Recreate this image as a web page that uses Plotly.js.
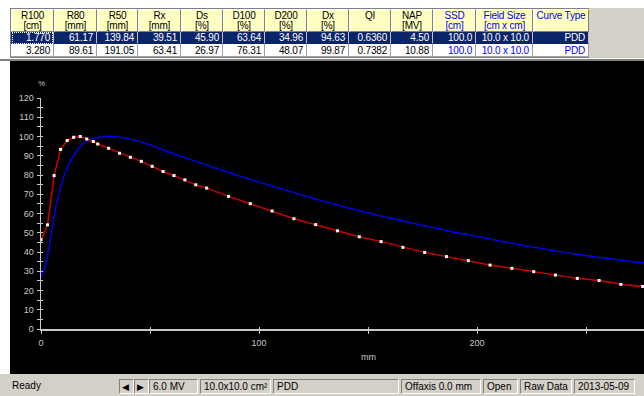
<!DOCTYPE html>
<html><head><meta charset="utf-8">
<script src="https://cdn.plot.ly/plotly-3.0.1.min.js"></script>
<style>
body{margin:0;width:644px;height:396px;overflow:hidden;background:#fff;font-family:"Liberation Sans",Arial,sans-serif;position:relative}
.c{position:absolute;box-sizing:border-box;font-size:10px;white-space:nowrap;overflow:hidden;letter-spacing:-0.2px}
.h{background:#FFFFC4;border-right:1px solid #808080;border-bottom:1px solid #808080;border-top:1px solid #fff;border-left:1px solid #fff;text-align:center;line-height:9.5px;padding-top:1px}
.r{text-align:right;padding-right:3px;border-right:1px solid #a0a0a0;border-bottom:1px solid #a0a0a0}
.sb{position:absolute;top:379px;height:15px;box-sizing:border-box;border-top:1px solid #808080;border-left:1px solid #808080;border-right:1px solid #fff;border-bottom:1px solid #fff;font-size:10px;line-height:13px;padding-left:3px;white-space:nowrap;overflow:hidden}
</style></head><body>
<div id="tbl"></div>
<div style="position:absolute;left:589px;top:8px;width:55px;height:50px;background:#D4D0C8"></div>
<div style="position:absolute;left:0;top:59px;width:644px;height:2px;background:#808080"></div>
<div id="plot" style="position:absolute;left:10px;top:61px;width:634px;height:313px;background:#000"></div>
<div id="status" style="position:absolute;left:0;top:374px;width:644px;height:22px;background:#D4D0C8"></div>
<script>
// ---- table data ----
const colEdges = [11,54,97,138,181,223,265,307,349,391,433,476,533,589];
const headerTop = ["R100","R80","R50","Rx","Ds","D100","D200","Dx","QI","NAP","SSD","Field Size","Curve Type"];
const headerUnit = ["[cm]","[mm]","[mm]","[mm]","[%]","[%]","[%]","[%]","","[MV]","[cm]","[cm x cm]",""];
const row6MV  = ["1.770","61.17","139.84","39.51","45.90","63.64","34.96","94.63","0.6360","4.50","100.0","10.0 x 10.0","PDD"];
const row10MV = ["3.280","89.61","191.05","63.41","26.97","76.31","48.07","99.87","0.7382","10.88","100.0","10.0 x 10.0","PDD"];
const blueCols = [10,11,12];

// ---- curve data (depth mm, relative dose %) ----
const depth6MV = [0,3,6,9,12,15,18,21,24,26,31,36,41,46,51,56,61,66,71,76,86,96,106,116,126,136,146,156,166,176,186,196,206,216,226,236,246,256,266,276];
const dose6MV  = [46.3,54.1,79.7,93.3,97.9,99.6,100.0,98.7,97.4,96.1,93.9,91.3,89.2,87.1,84.5,81.8,79.7,77.5,74.9,73.2,68.9,65.1,61.3,57.3,54.2,51.0,47.9,45.4,42.4,39.8,37.6,35.5,33.2,31.5,29.8,28.0,26.3,25.2,23.2,22.1];
const depth10MV = [0,2,4.5,6.6,8.9,11.9,15.7,19.5,24,28,32.8,40,50,60,73,89.6,100,114,128,142,156,169,183,191,200,211,224,238,252,266,277];
const dose10MV  = [27.0,32.7,47.8,62.0,73.2,83.5,91.3,96.4,99.0,99.9,100.0,98.9,95.6,91.4,86.3,80.0,76.3,71.5,66.9,62.6,58.7,55.3,51.9,50.0,48.1,45.6,42.9,40.2,37.8,35.7,34.2];

// ---- status bar ----
const statusTexts = ["6.0 MV","10.0x10.0 cm²","PDD","Offaxis 0.0 mm","Open","Raw Data","2013-05-09"];
const statusEdges = [149,200,273,401,483,520,574,637];

// build table
const tbl = document.getElementById('tbl');
function cell(cls, l, t, w, h, html, style){
  const d = document.createElement('div');
  d.className = 'c ' + cls;
  d.style.left = l+'px'; d.style.top = t+'px'; d.style.width = w+'px'; d.style.height = h+'px';
  if(style) Object.assign(d.style, style);
  d.innerHTML = html;
  tbl.appendChild(d);
  return d;
}
cell('', 10, 8, 580, 1, '', {background:'#808080'});
cell('', 10, 8, 1, 50, '', {background:'#808080'});
for(let i=0;i<headerTop.length;i++){
  const l = colEdges[i], w = colEdges[i+1]-colEdges[i];
  const col = blueCols.includes(i) ? '#0000FF' : '#000';
  cell('h', l, 9, w, 23, headerTop[i] + '<br>' + (headerUnit[i]||'&nbsp;'), {color:col});
  cell('r', l, 32, w, 12, row6MV[i], {background:'#0A246A', color:'#fff', lineHeight:'11px', borderRightColor:'#c0c0c0', borderBottomColor:'#0A246A'});
  cell('r', l, 44, w, 13, row10MV[i], {background:'#fff', color: blueCols.includes(i)?'#0000FF':'#000', lineHeight:'13px'});
}
cell('', 12, 32, 41, 12, '', {border:'1px dotted #fff'});
cell('', 10, 57, 580, 1, '', {background:'#808080'});

// status bar
const st = document.getElementById('status');
const ready = document.createElement('div');
ready.style.cssText = 'position:absolute;left:12px;top:5px;font-size:10px;line-height:13px';
ready.textContent = 'Ready';
st.appendChild(ready);
function sb(l, w, html){
  const d = document.createElement('div');
  d.className = 'sb'; d.style.left = l+'px'; d.style.width = w+'px'; d.style.top = '5px';
  d.innerHTML = html; st.appendChild(d); return d;
}
sb(119, 15, '<span style="font-size:9px;position:relative;left:-1px">&#9664;</span>');
sb(134, 15, '<span style="font-size:9px;position:relative;left:-1px">&#9654;</span>');
for(let i=0;i<statusTexts.length;i++){
  sb(statusEdges[i], statusEdges[i+1]-statusEdges[i]-2, statusTexts[i]);
}

// plot
const tickCol = '#c8c8c8';
const tf = {family:'"Liberation Sans", Arial, sans-serif', size:9, color:tickCol};
const traces = [
  {x:depth10MV, y:dose10MV, type:'scatter', mode:'lines', line:{color:'#0000E8', width:1.5, shape:'spline', smoothing:0.5}, hoverinfo:'skip'},
  {x:depth6MV, y:dose6MV, type:'scatter', mode:'lines+markers', line:{color:'#D00000', width:1.5}, marker:{symbol:'square', size:3, color:'#ffffff'}, hoverinfo:'skip'},
  {x:[], y:[], xaxis:'x2', yaxis:'y2', type:'scatter', mode:'lines', hoverinfo:'skip'}
];
const xr = [0, 603/2.18];
const layout = {
  width:634, height:313,
  margin:{l:31, r:0, t:37, b:45},
  paper_bgcolor:'#000', plot_bgcolor:'#000',
  showlegend:false,
  xaxis:{range:xr, showgrid:false, zeroline:false, showline:true, linecolor:tickCol, linewidth:1.5,
    dtick:100, tick0:0, ticks:'outside', ticklen:3, tickcolor:tickCol, tickwidth:1, tickfont:tf, ticklabelstandoff:2,
    minor:{dtick:50, ticks:'outside', ticklen:3, tickcolor:tickCol}, fixedrange:true},
  xaxis2:{range:xr, overlaying:'x', anchor:'y2', side:'bottom', showgrid:false, zeroline:false, showline:false,
    dtick:50, tick0:0, ticks:'inside', ticklen:2, tickcolor:tickCol, showticklabels:false, fixedrange:true},
  yaxis:{range:[0,120], showgrid:false, zeroline:false, showline:true, linecolor:tickCol, linewidth:1.5,
    dtick:10, tick0:0, ticks:'outside', ticklen:3, tickcolor:tickCol, tickfont:tf, ticklabelstandoff:1,
    minor:{dtick:5, ticks:'outside', ticklen:3, tickcolor:tickCol}, fixedrange:true},
  yaxis2:{range:[0,120], overlaying:'y', anchor:'x2', side:'left', showgrid:false, zeroline:false, showline:false,
    dtick:5, tick0:0, ticks:'inside', ticklen:2, tickcolor:tickCol, showticklabels:false, fixedrange:true},
  annotations:[
    {text:'%', xref:'paper', yref:'paper', x:0, y:1, yshift:15, xanchor:'center', yanchor:'middle', showarrow:false, font:{family:'"Liberation Sans", Arial', size:8, color:tickCol}},
    {text:'mm', xref:'x', yref:'paper', x:150, y:0, yshift:-28, xanchor:'center', yanchor:'middle', showarrow:false, font:{family:'"Liberation Sans", Arial', size:9, color:tickCol}}
  ]
};
Plotly.newPlot('plot', traces, layout, {displayModeBar:false, staticPlot:true});
</script>
</body></html>
